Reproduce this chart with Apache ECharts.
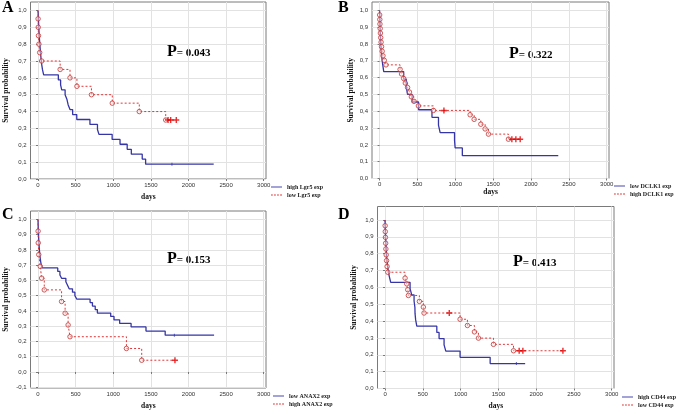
<!DOCTYPE html>
<html>
<head>
<meta charset="utf-8">
<script src="https://cdn.jsdelivr.net/npm/echarts@6.0.0/dist/echarts.min.js"></script>
<style>
html, body { margin: 0; padding: 0; background: #fff; }
#main { width: 676px; height: 413px; }
</style>
</head>
<body>
<div id="main"></div>
<script>
// tick values
var xTicks = [0, 500, 1000, 1500, 2000, 2500, 3000];
var yTicks = [0, 0.1, 0.2, 0.3, 0.4, 0.5, 0.6, 0.7, 0.8, 0.9, 1.0];
var yTicksC = [-0.1, 0, 0.1, 0.2, 0.3, 0.4, 0.5, 0.6, 0.7, 0.8, 0.9, 1.0];

// A - Lgr5
var aHighT = [0, 3, 6, 9, 12, 16, 20, 25, 30, 36, 42, 50, 60, 75, 270, 300, 315, 360, 385, 400, 425, 460, 515, 690, 790, 810, 985, 1090, 1185, 1240, 1385, 1430, 2335];
var aHighS = [1, 0.971, 0.941, 0.912, 0.882, 0.853, 0.824, 0.794, 0.765, 0.735, 0.706, 0.676, 0.647, 0.618, 0.588, 0.559, 0.529, 0.5, 0.471, 0.441, 0.412, 0.382, 0.353, 0.324, 0.294, 0.265, 0.235, 0.206, 0.176, 0.147, 0.118, 0.088, 0.088];
var aHighCens = [1780];
var aLowT = [0, 1, 3, 6, 12, 22, 48, 294, 425, 517, 710, 987, 1346, 1697, 1838];
var aLowS = [1, 0.95, 0.9, 0.85, 0.8, 0.75, 0.7, 0.65, 0.6, 0.55, 0.5, 0.45, 0.4, 0.35, 0.35];
var aLowCens = [1728, 1763, 1838];

// B - DCLK1
var bLowT = [0, 3, 6, 10, 15, 20, 28, 40, 55, 318, 352, 370, 430, 515, 692, 778, 800, 990, 998, 1093, 2360];
var bLowS = [1, 0.955, 0.909, 0.864, 0.818, 0.773, 0.727, 0.682, 0.636, 0.591, 0.545, 0.5, 0.455, 0.409, 0.364, 0.318, 0.273, 0.227, 0.182, 0.136, 0.136];
var bLowCens = [];
var bHighT = [0, 1, 3, 5, 8, 11, 15, 20, 26, 34, 45, 62, 85, 271, 290, 318, 340, 370, 395, 420, 455, 513, 711, 1196, 1249, 1337, 1394, 1438, 1702, 1857];
var bHighS = [1, 0.973, 0.946, 0.919, 0.892, 0.865, 0.838, 0.811, 0.784, 0.757, 0.73, 0.703, 0.676, 0.649, 0.622, 0.595, 0.568, 0.541, 0.514, 0.486, 0.459, 0.432, 0.405, 0.379, 0.352, 0.323, 0.295, 0.264, 0.234, 0.234];
var bHighCens = [850, 1747, 1800, 1857];

// C - ANAX2
var cLowT = [0, 1, 2, 4, 6, 8, 10, 13, 16, 19, 23, 28, 34, 42, 55, 262, 291, 313, 370, 392, 414, 458, 490, 516, 692, 723, 760, 789, 966, 1010, 1085, 1237, 1435, 1690, 2340];
var cLowS = [1, 0.977, 0.955, 0.932, 0.909, 0.886, 0.864, 0.841, 0.818, 0.795, 0.773, 0.75, 0.727, 0.705, 0.682, 0.659, 0.636, 0.614, 0.591, 0.568, 0.545, 0.523, 0.5, 0.477, 0.455, 0.432, 0.409, 0.386, 0.364, 0.341, 0.318, 0.295, 0.268, 0.241, 0.241];
var cLowCens = [1812];
var cHighT = [0, 1, 3, 10, 30, 48, 83, 313, 360, 400, 425, 1175, 1378, 1820];
var cHighS = [1, 0.923, 0.846, 0.769, 0.692, 0.615, 0.538, 0.462, 0.385, 0.308, 0.231, 0.154, 0.077, 0.077];
var cHighCens = [1820];

// D - CD44
var dHighT = [0, 2, 5, 8, 12, 16, 22, 30, 40, 55, 75, 331, 353, 384, 395, 397, 405, 420, 685, 715, 781, 804, 993, 1391, 1854];
var dHighS = [1, 0.963, 0.926, 0.889, 0.852, 0.815, 0.778, 0.741, 0.704, 0.667, 0.63, 0.593, 0.556, 0.519, 0.481, 0.444, 0.407, 0.37, 0.333, 0.296, 0.259, 0.222, 0.185, 0.148, 0.148];
var dHighCens = [1738];
var dLowT = [0, 1, 3, 5, 8, 11, 15, 20, 27, 36, 265, 287, 300, 309, 454, 507, 516, 993, 1090, 1183, 1236, 1435, 1700, 2354];
var dLowS = [1, 0.966, 0.931, 0.897, 0.862, 0.828, 0.793, 0.759, 0.724, 0.69, 0.655, 0.621, 0.586, 0.552, 0.517, 0.483, 0.448, 0.411, 0.374, 0.336, 0.299, 0.262, 0.224, 0.224];
var dLowCens = [850, 1775, 1824, 2354];

var serif = '"Liberation Serif", "Times New Roman", serif';
var BLUE = '#3535a8';
var RED = '#e23535';
var PLUS = 'path://M0.38,0H0.62V0.38H1V0.62H0.62V1H0.38V0.62H0V0.38H0.38Z';
// legend icons: a solid and a dashed stroke
var SOLID_ICON = 'path://M0,0H12V1H0Z';
var DASH_ICON = 'path://M0,0H2V1H0Z M3.3,0H5.3V1H3.3Z M6.6,0H8.6V1H6.6Z M9.9,0H12V1H9.9Z';

function pts(t, s) {
    return t.map(function (v, i) { return [v, s[i]]; });
}
// survival value at time x (step function)
function at(t, s, x) {
    var y = s[0];
    for (var i = 0; i < t.length; i++) if (t[i] <= x) y = s[i];
    return y;
}

var myChart = echarts.init(document.getElementById('main'));

var grids = [
    { left: 30.5, top: 2, width: 235.5, height: 177 },
    { left: 372, top: 2, width: 237, height: 176.5 },
    { left: 30.5, top: 211, width: 235.5, height: 177 },
    { left: 377.5, top: 206.5, width: 236.5, height: 182 }
];
var yRange = [[0, 1.05], [0, 1.05], [-0.105, 1.055], [0, 1.08]];
var xNameGap = [14, 10, 14, 14];
var yNameGap = [20, 17, 20.5, 19.5];

function xAx(i) {
    return {
        gridIndex: i, type: 'value', min: -100, max: 3030,
        name: 'days', nameLocation: 'middle', nameGap: xNameGap[i],
        nameTextStyle: { fontFamily: serif, fontWeight: 'bold', fontSize: 7.5, color: '#111' },
        axisLine: { show: false },
        axisTick: { show: true, length: 2, customValues: xTicks, lineStyle: { color: '#777' } },
        axisLabel: {
            customValues: xTicks, fontSize: 6, fontFamily: 'Liberation Sans', color: '#333', margin: 3,
            formatter: function (v) { return String(v); }
        },
        splitLine: { show: true, lineStyle: { color: '#e2e2e2', width: 1 } }
    };
}
function yAx(i) {
    var ticks = i === 2 ? yTicksC : yTicks;
    return {
        gridIndex: i, type: 'value', min: yRange[i][0], max: yRange[i][1],
        name: 'Survival probability', nameLocation: 'middle', nameGap: yNameGap[i],
        nameTextStyle: { fontFamily: serif, fontWeight: 'bold', fontSize: 7.5, color: '#111' },
        axisLine: { show: false },
        axisTick: { show: true, length: 2, customValues: ticks, lineStyle: { color: '#777' } },
        axisLabel: {
            customValues: ticks, fontSize: 6, fontFamily: 'Liberation Sans', color: '#333', margin: 4,
            formatter: function (v) { return v.toFixed(1).replace('.', ','); }
        },
        splitLine: { show: true, lineStyle: { color: '#e2e2e2', width: 1 } }
    };
}

function curve(name, t, s, g, dashed) {
    return {
        type: 'line', name: name, xAxisIndex: g, yAxisIndex: g,
        data: pts(t, s), step: 'end', symbol: 'none', silent: true,
        lineStyle: { color: dashed ? RED : BLUE, width: dashed ? 1 : 1.3, type: dashed ? [2, 2] : 'solid' },
        itemStyle: { color: dashed ? RED : BLUE },
        z: dashed ? 4 : 3
    };
}
function circles(t, s, g) {
    return {
        type: 'scatter', xAxisIndex: g, yAxisIndex: g, silent: true,
        data: pts(t, s).slice(1, -1), symbol: 'circle', symbolSize: 4.5,
        itemStyle: { color: 'rgba(255,235,235,0.6)', borderColor: '#c03838', borderWidth: 1 },
        z: 5
    };
}
function censored(t, s, c, g, red) {
    return {
        type: 'scatter', xAxisIndex: g, yAxisIndex: g, silent: true,
        data: c.map(function (x) { return [x, at(t, s, x)]; }),
        symbol: red ? PLUS : 'rect', symbolSize: red ? 6 : [1, 3],
        itemStyle: { color: red ? '#e00000' : BLUE },
        z: 6
    };
}

function legend(names, left, top) {
    return {
        data: [
            { name: names[0], icon: SOLID_ICON },
            { name: names[1], icon: DASH_ICON }
        ],
        left: left, top: top, orient: 'vertical', padding: 0,
        itemWidth: 11, itemHeight: 1.2, itemGap: 2, selectedMode: false,
        textStyle: { fontFamily: serif, fontWeight: 'bold', fontSize: 6, color: '#222' }
    };
}

function pText(left, top, val) {
    return {
        type: 'text', left: left, top: top, silent: true,
        style: {
            text: '{p|P}{v|= ' + val + '}',
            rich: {
                p: { font: 'bold 16px ' + serif, fill: '#000', verticalAlign: 'bottom' },
                v: { font: 'bold 11px ' + serif, fill: '#000', verticalAlign: 'bottom', padding: [0, 0, 1, 0] }
            }
        }
    };
}
function letter(left, top, ch) {
    return {
        type: 'text', left: left, top: top, silent: true,
        style: { text: ch, font: 'bold 16px ' + serif, fill: '#000' }
    };
}

var option = {
    animation: false,
    backgroundColor: '#fff',
    grid: grids.map(function (g) {
        return { left: g.left, top: g.top, width: g.width, height: g.height, show: true, borderColor: '#7a7a7a', borderWidth: 1 };
    }),
    xAxis: [0, 1, 2, 3].map(xAx),
    yAxis: [0, 1, 2, 3].map(yAx),
    legend: [
        legend(['high Lgr5 exp', 'low Lgr5 exp'], 271, 184),
        legend(['low DCLK1 exp', 'high DCLK1 exp'], 614, 183),
        legend(['low ANAX2 exp', 'high ANAX2 exp'], 273, 393),
        legend(['high CD44 exp', 'low CD44 exp'], 622, 394)
    ],
    series: [
        curve('high Lgr5 exp', aHighT, aHighS, 0, false),
        censored(aHighT, aHighS, aHighCens, 0, false),
        curve('low Lgr5 exp', aLowT, aLowS, 0, true),
        circles(aLowT, aLowS, 0),
        censored(aLowT, aLowS, aLowCens, 0, true),

        curve('low DCLK1 exp', bLowT, bLowS, 1, false),
        censored(bLowT, bLowS, bLowCens, 1, false),
        curve('high DCLK1 exp', bHighT, bHighS, 1, true),
        circles(bHighT, bHighS, 1),
        censored(bHighT, bHighS, bHighCens, 1, true),

        curve('low ANAX2 exp', cLowT, cLowS, 2, false),
        censored(cLowT, cLowS, cLowCens, 2, false),
        curve('high ANAX2 exp', cHighT, cHighS, 2, true),
        circles(cHighT, cHighS, 2),
        censored(cHighT, cHighS, cHighCens, 2, true),

        curve('high CD44 exp', dHighT, dHighS, 3, false),
        censored(dHighT, dHighS, dHighCens, 3, false),
        curve('low CD44 exp', dLowT, dLowS, 3, true),
        circles(dLowT, dLowS, 3),
        censored(dLowT, dLowS, dLowCens, 3, true)
    ],
    graphic: [
        letter(2, 0, 'A'),
        letter(338, 0, 'B'),
        letter(2, 207, 'C'),
        letter(338, 207, 'D'),
        pText(167, 44, '0.043'),
        pText(509, 46, '0.322'),
        pText(167, 251, '0.153'),
        pText(513, 254, '0.413')
    ]
};

myChart.setOption(option);
</script>
</body>
</html>
